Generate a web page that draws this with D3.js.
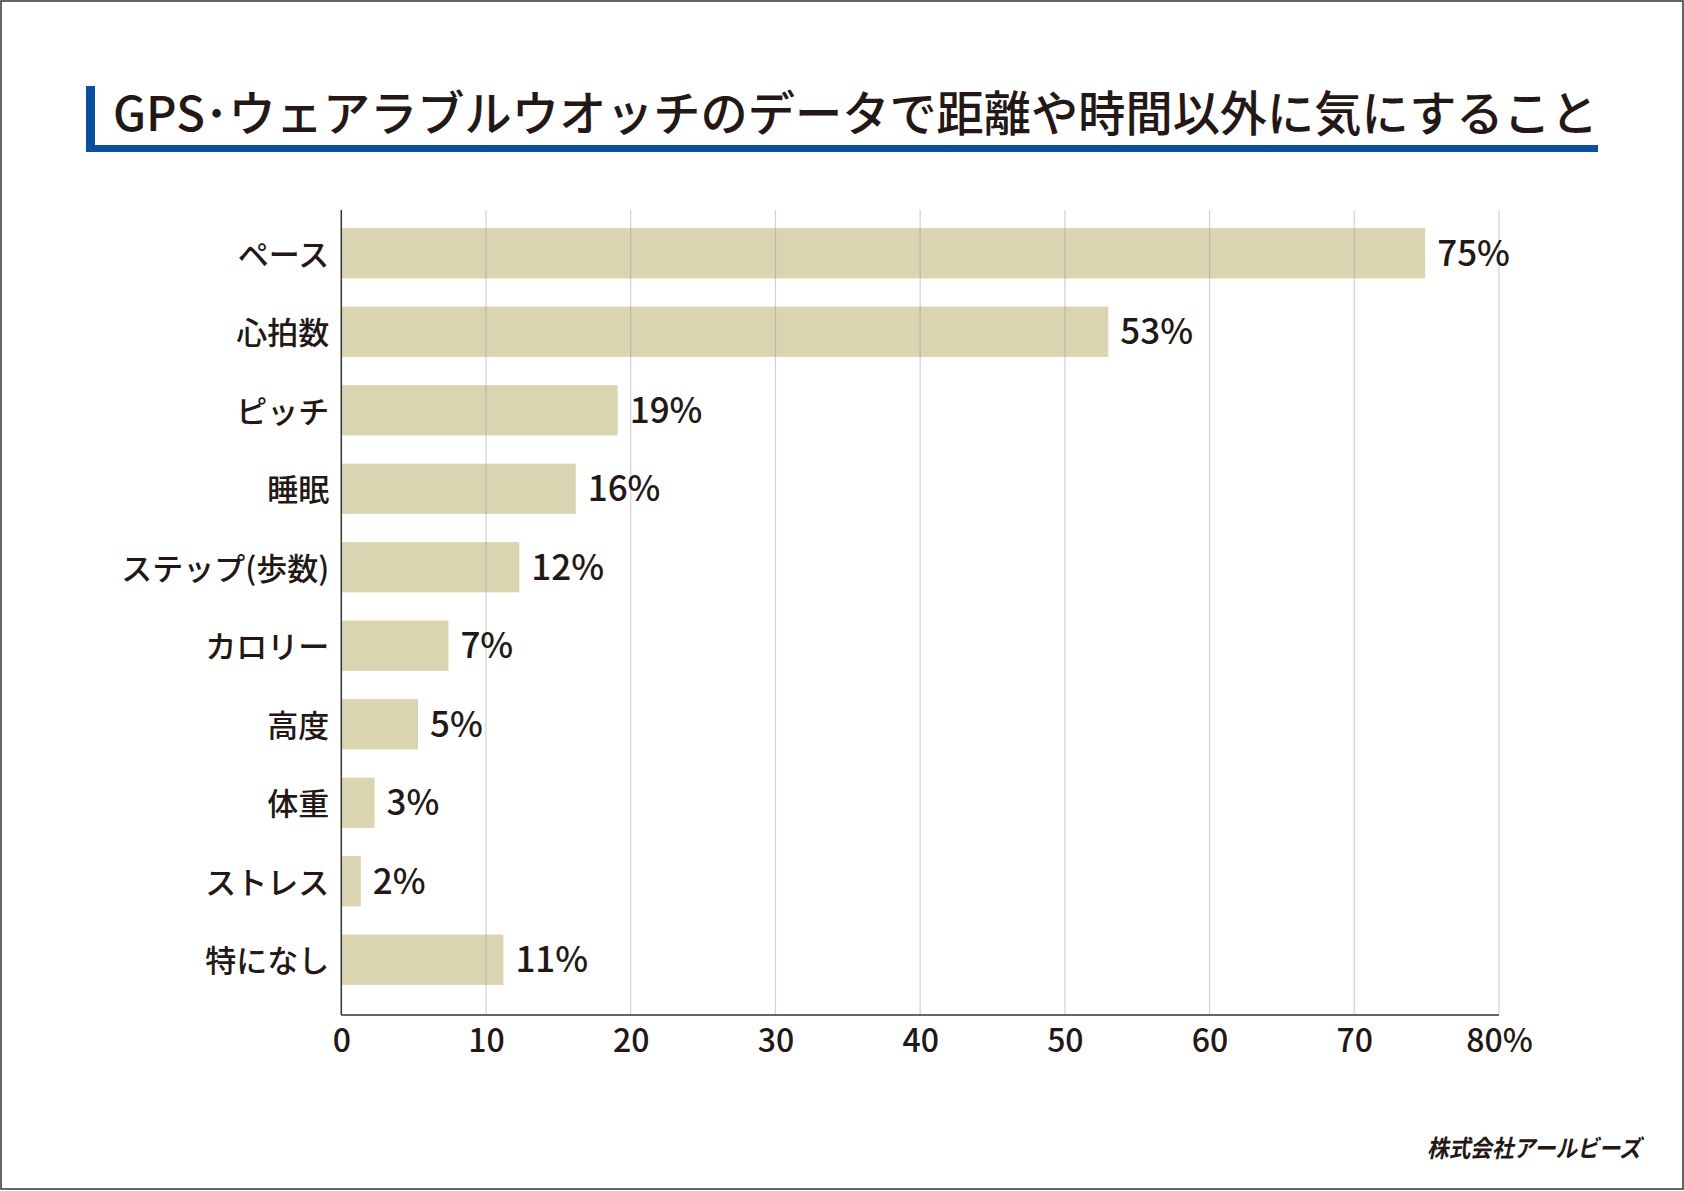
<!DOCTYPE html>
<html lang="ja">
<head>
<meta charset="utf-8">
<script src="https://cdn.jsdelivr.net/npm/d3@7"></script>
<style>
  body { margin: 0; background: #fff; }
  svg { display: block; }
  text { font-family: "Noto Sans CJK JP", "Noto Sans", sans-serif; fill: #231815; }
</style>
</head>
<body>
<div id="chart"></div>
<script>
const titleText = "GPS･ウェアラブルウオッチのデータで距離や時間以外に気にすること";
const credit = "株式会社アールビーズ";

// categories, top to bottom
const categories = ["ペース", "心拍数", "ピッチ", "睡眠", "ステップ(歩数)", "カロリー", "高度", "体重", "ストレス", "特になし"];
// bar lengths as drawn in the picture (%)
const barValues = [74.9, 53.0, 19.1, 16.2, 12.3, 7.4, 5.3, 2.3, 1.35, 11.2];
// printed labels (%)
const shownValues = [75, 53, 19, 16, 12, 7, 5, 3, 2, 11];
const tickValues = [0, 10, 20, 30, 40, 50, 60, 70, 80];

const width = 1684, height = 1191;
const blue = "#0a4f9e";
const barColor = "#dad4b1";

const svg = d3.select("#chart").append("svg")
    .attr("width", width)
    .attr("height", height);

svg.append("rect")
    .attr("width", width).attr("height", height)
    .attr("fill", "#fff");

// outer frame
svg.append("rect")
    .attr("x", 1).attr("y", 1)
    .attr("width", width - 2).attr("height", height - 3)
    .attr("fill", "none")
    .attr("stroke", "#333")
    .attr("stroke-width", 1.5);

// title block
svg.append("rect")
    .attr("x", 86).attr("y", 86)
    .attr("width", 9).attr("height", 66)
    .attr("fill", blue);
svg.append("rect")
    .attr("x", 86).attr("y", 145)
    .attr("width", 1512).attr("height", 7)
    .attr("fill", blue);
svg.append("text")
    .attr("x", 113).attr("y", 131)
    .attr("font-size", 48)
    .attr("font-weight", 500)
    .attr("textLength", 1485)
    .attr("lengthAdjust", "spacingAndGlyphs")
    .text(titleText);

// scales
const x = d3.scaleLinear().domain([0, 80]).range([341.3, 1499]);
const y = d3.scaleBand()
    .domain(categories)
    .range([214, 999])
    .paddingInner(0.36)
    .paddingOuter(0.18);

const plotTop = 210, plotBottom = 1015;

// bars
svg.append("g")
    .selectAll("rect")
    .data(categories)
    .join("rect")
    .attr("x", x(0))
    .attr("y", d => y(d))
    .attr("width", (d, i) => x(barValues[i]) - x(0))
    .attr("height", y.bandwidth())
    .attr("fill", barColor);

// gridlines, drawn over the bars
svg.append("g")
    .selectAll("line")
    .data(tickValues.filter(v => v > 0))
    .join("line")
    .attr("x1", d => x(d)).attr("x2", d => x(d))
    .attr("y1", plotTop).attr("y2", plotBottom)
    .attr("stroke", "#9a9a9a")
    .attr("stroke-opacity", 0.45)
    .attr("stroke-width", 1.2);

// value labels
svg.append("g")
    .selectAll("text")
    .data(categories)
    .join("text")
    .attr("x", (d, i) => x(barValues[i]) + 12)
    .attr("y", d => y(d) + y.bandwidth() / 2)
    .attr("dy", "0.36em")
    .attr("font-size", 35)
    .attr("font-weight", 500)
    .text((d, i) => shownValues[i] + "%");

// x axis
const xAxis = svg.append("g")
    .attr("transform", `translate(0,${plotBottom})`)
    .call(d3.axisBottom(x)
        .tickValues(tickValues)
        .tickSize(0)
        .tickPadding(14)
        .tickFormat(d => d === 80 ? "80%" : d));
xAxis.select(".domain").remove();
xAxis.selectAll("text")
    .attr("font-size", 32)
    .attr("font-weight", 500)
    .attr("font-family", null)
    .attr("fill", "#231815");

// y axis labels
const yAxis = svg.append("g")
    .attr("transform", `translate(${x(0)},0)`)
    .call(d3.axisLeft(y).tickSize(0).tickPadding(12));
yAxis.select(".domain").remove();
yAxis.selectAll("text")
    .attr("dy", "0.4em")
    .attr("font-size", 31)
    .attr("font-weight", 500)
    .attr("font-family", null)
    .attr("fill", "#231815");

// axis lines
svg.append("line")
    .attr("x1", x(0)).attr("x2", x(0))
    .attr("y1", plotTop).attr("y2", plotBottom)
    .attr("stroke", "#333").attr("stroke-width", 1.5);
svg.append("line")
    .attr("x1", x(0)).attr("x2", x(80))
    .attr("y1", plotBottom).attr("y2", plotBottom)
    .attr("stroke", "#333").attr("stroke-width", 1.5);

// credit
svg.append("text")
    .attr("transform", "translate(1427,1157) skewX(-12)")
    .attr("font-size", 24)
    .attr("font-weight", 700)
    .attr("textLength", 214)
    .attr("lengthAdjust", "spacingAndGlyphs")
    .text(credit);
</script>
</body>
</html>
